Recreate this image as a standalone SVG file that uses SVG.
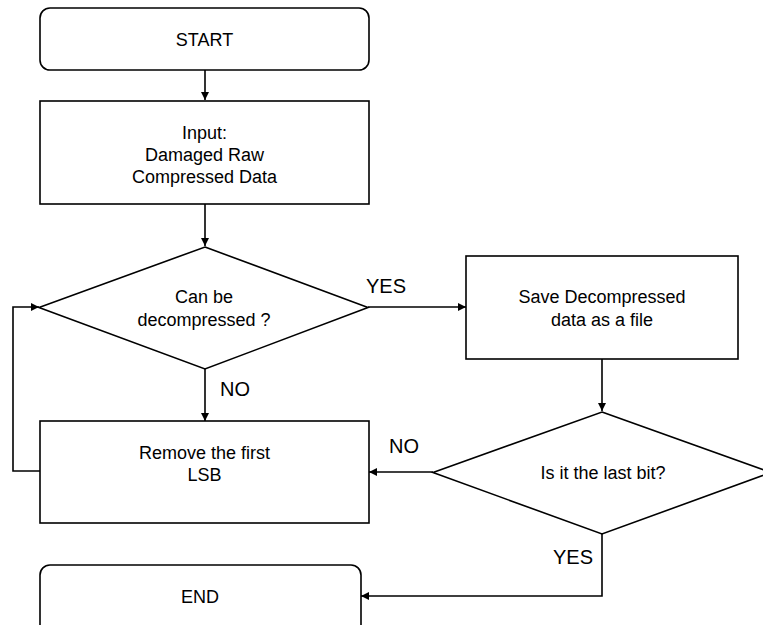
<svg xmlns="http://www.w3.org/2000/svg" width="763" height="625" viewBox="0 0 763 625">
<defs>
<marker id="ah" markerWidth="10" markerHeight="10" refX="9" refY="5" orient="auto" markerUnits="userSpaceOnUse">
<path d="M1,1 L9,5 L1,9 Z" fill="#000"/>
</marker>
<style>
.s{fill:#fff;stroke:#000;stroke-width:1.6}
.c{fill:none;stroke:#000;stroke-width:1.6;marker-end:url(#ah)}
.t{font-family:"Liberation Sans",Arial,sans-serif;font-size:18px;fill:#000;text-anchor:middle}
.l{font-family:"Liberation Sans",Arial,sans-serif;font-size:20px;fill:#000}
</style>
</defs>
<rect width="763" height="625" fill="#fff"/>
<g id="connectors">
<line class="c" x1="205" y1="70" x2="205" y2="100"/>
<line class="c" x1="205" y1="204" x2="205" y2="246"/>
<line class="c" x1="368" y1="307" x2="466" y2="307"/>
<line class="c" x1="205" y1="369" x2="205" y2="421"/>
<polyline class="c" points="40,471 13,471 13,307 39,307"/>
<line class="c" x1="602" y1="359" x2="602" y2="411"/>
<line class="c" x1="433" y1="472" x2="369" y2="472"/>
<polyline class="c" points="602,534 602,596 361,596"/>
<text class="l" x="366" y="293">YES</text>
<text class="l" x="220" y="396">NO</text>
<text class="l" x="389" y="453">NO</text>
<text class="l" x="553" y="564">YES</text>
</g>
<g id="start">
<rect class="s" x="40" y="8" width="329" height="62" rx="10"/>
<text class="t" x="204.5" y="45.5">START</text>
</g>
<g id="input">
<rect class="s" x="40" y="101" width="329" height="103"/>
<text class="t" x="204.5" y="139">Input:</text>
<text class="t" x="204.5" y="161">Damaged Raw</text>
<text class="t" x="204.5" y="183">Compressed Data</text>
</g>
<g id="decision1">
<polygon class="s" points="205,247 368,307.5 205,369 39,307.5"/>
<text class="t" x="204" y="303">Can be</text>
<text class="t" x="204" y="326">decompressed ?</text>
</g>
<g id="save">
<rect class="s" x="466" y="256" width="272" height="103"/>
<text class="t" x="602" y="303">Save Decompressed</text>
<text class="t" x="602" y="326">data as a file</text>
</g>
<g id="remove">
<rect class="s" x="40" y="421" width="329" height="102"/>
<text class="t" x="204.5" y="459">Remove the first</text>
<text class="t" x="204.5" y="481">LSB</text>
</g>
<g id="decision2">
<polygon class="s" points="602,412 771,472.5 602,534 433,472.5"/>
<text class="t" x="603" y="479">Is it the last bit?</text>
</g>
<g id="end">
<rect class="s" x="40" y="565" width="321" height="75" rx="10"/>
<text class="t" x="200" y="603">END</text>
</g>
</svg>
